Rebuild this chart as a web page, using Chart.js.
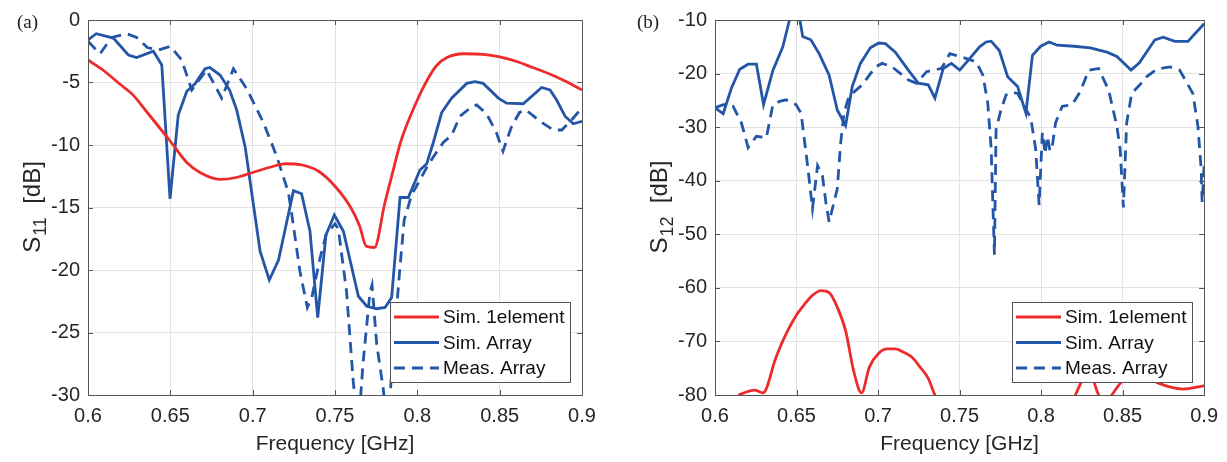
<!DOCTYPE html>
<html><head><meta charset="utf-8">
<script src="https://cdn.jsdelivr.net/npm/chart.js@4.4.0/dist/chart.umd.min.js"></script>
<style>
html,body{margin:0;padding:0;background:#fff;}
#wrap{position:relative;width:1227px;height:462px;overflow:hidden;}
.box{position:absolute;top:0;height:462px;}
canvas{display:block;}
</style></head><body>
<div id="wrap">
<div class="box" style="left:0;width:613px"><canvas id="c1" width="613" height="462"></canvas></div>
<div class="box" style="left:613px;width:614px"><canvas id="c2" width="614" height="462"></canvas></div>
</div>
<script>
// ---------- tick labels ----------
const freqTicks = [0.6, 0.65, 0.7, 0.75, 0.8, 0.85, 0.9];
const freqTickLabels = ['0.6', '0.65', '0.7', '0.75', '0.8', '0.85', '0.9'];
const s11Ticks = [-30, -25, -20, -15, -10, -5, 0];
const s11TickLabels = ['-30', '-25', '-20', '-15', '-10', '-5', '0'];
const s12Ticks = [-80, -70, -60, -50, -40, -30, -20, -10];
const s12TickLabels = ['-80', '-70', '-60', '-50', '-40', '-30', '-20', '-10'];
const seriesNames = ['Sim. 1element', 'Sim. Array', 'Meas. Array'];

// ---------- (a) S11 ----------
const s11ElemFreq = [0.6,0.61,0.62,0.627,0.636,0.65,0.66,0.668,0.68,0.69,0.7,0.71,0.72,0.73,0.74,0.75,0.76,0.765,0.769,0.774,0.78,0.785,0.79,0.8,0.806,0.812,0.818,0.828,0.84,0.85,0.86,0.87,0.88,0.89,0.9];
const s11ElemDb = [-3.2,-4.1,-5.2,-5.95,-7.4,-9.7,-11.4,-12.2,-12.75,-12.6,-12.2,-11.8,-11.5,-11.6,-12.1,-13.3,-15.1,-16.5,-18.1,-18.2,-14.8,-12.2,-9.7,-6.4,-4.8,-3.6,-3.0,-2.7,-2.75,-2.95,-3.3,-3.8,-4.3,-4.9,-5.6];

const s11SimArrFreq = [0.6,0.605,0.6154,0.6245,0.6295,0.6397,0.6448,0.6498,0.6548,0.66,0.665,0.6711,0.674,0.6802,0.686,0.6903,0.6955,0.7045,0.7101,0.7157,0.7248,0.7297,0.7348,0.7395,0.7445,0.7496,0.7551,0.7642,0.7693,0.7753,0.7804,0.7844,0.7895,0.7945,0.8016,0.8057,0.8097,0.8148,0.8208,0.83,0.835,0.84,0.8492,0.8542,0.8643,0.8755,0.8806,0.8846,0.8897,0.8947,0.9];
const s11SimArrDb = [-1.6,-1.1,-1.45,-2.8,-3.0,-2.5,-3.6,-14.3,-7.6,-5.7,-5.1,-3.9,-3.8,-4.4,-5.6,-7.2,-10.2,-18.5,-20.8,-19.2,-13.65,-13.9,-16.9,-23.8,-17.2,-15.6,-16.9,-22.1,-22.9,-23.1,-23.0,-22.2,-14.2,-14.2,-12.0,-11.5,-9.8,-7.4,-6.25,-5.07,-4.93,-5.07,-6.25,-6.65,-6.7,-5.4,-5.6,-6.4,-7.7,-8.3,-8.1];

const s11MeasFreq = [0.6,0.6073,0.6144,0.6235,0.6296,0.636,0.643,0.65,0.6569,0.663,0.672,0.6812,0.6883,0.6964,0.7065,0.7146,0.7217,0.7237,0.7287,0.7332,0.7359,0.7409,0.7445,0.75,0.752,0.757,0.761,0.764,0.767,0.7712,0.7725,0.7753,0.7793,0.782,0.785,0.789,0.792,0.7965,0.8057,0.81,0.8158,0.8209,0.8259,0.832,0.836,0.842,0.848,0.852,0.857,0.862,0.866,0.8745,0.8826,0.8877,0.8937,0.9];
const s11MeasDb = [-1.7,-2.7,-1.4,-1.1,-1.4,-2.2,-2.4,-2.1,-3.2,-5.6,-4.0,-6.25,-3.9,-5.5,-8.2,-10.9,-13.8,-15.5,-20.1,-23.0,-22.2,-19.05,-17.2,-16.3,-16.7,-21.7,-28.8,-33,-27.5,-21.8,-21.2,-25.9,-29.5,-33,-27,-20.5,-16,-14.0,-11.8,-10.9,-9.8,-9.2,-7.7,-7.05,-6.8,-7.5,-9.0,-10.5,-8.6,-7.4,-7.2,-8.1,-8.8,-8.8,-8.0,-7.0];

// ---------- (b) S12 ----------
const s12ElemFreq = [0.6142,0.6243,0.6294,0.6375,0.6436,0.6497,0.6548,0.6598,0.6649,0.67,0.675,0.6801,0.6852,0.6899,0.6947,0.7004,0.7055,0.7106,0.7156,0.7207,0.7258,0.7308,0.7349,0.745,0.76,0.78,0.8,0.815,0.8211,0.8252,0.829,0.8353,0.839,0.8434,0.8505,0.856,0.8667,0.8789,0.887,0.9];
const s12ElemDb = [-80,-79.1,-79.6,-72.9,-68.6,-65.2,-63.1,-61.4,-60.5,-60.9,-63.6,-68.0,-75.7,-79.6,-74.8,-72.2,-71.4,-71.4,-72.0,-72.9,-74.8,-76.9,-80,-85,-90,-92,-90,-85,-80,-77.3,-75.5,-80,-82,-80,-77.2,-76.5,-77.2,-78.5,-78.9,-78.3];

const s12SimArrFreq = [0.6,0.605,0.6101,0.6152,0.6203,0.6254,0.6298,0.6355,0.6416,0.6456,0.648,0.651,0.6538,0.6588,0.6639,0.67,0.675,0.6801,0.6842,0.6892,0.6953,0.7004,0.7045,0.7106,0.7187,0.7247,0.7308,0.7349,0.74,0.745,0.7501,0.7562,0.7623,0.7663,0.7694,0.7744,0.7795,0.7856,0.7907,0.7947,0.7998,0.8049,0.8099,0.8201,0.8302,0.8404,0.8465,0.8552,0.8603,0.8698,0.8749,0.882,0.8901,0.9];
const s12SimArrDb = [-26.4,-27.5,-22.7,-19.2,-18.25,-18.25,-25.8,-19.4,-15.0,-10.1,-8,-8,-13.1,-13.7,-16.3,-20.3,-26.8,-29.7,-22.4,-18.1,-15.2,-14.3,-14.4,-16.0,-19.4,-21.8,-22.1,-24.6,-19.05,-18.1,-19.35,-17.2,-15.0,-14.1,-13.95,-15.7,-20.6,-22.4,-27.4,-16.6,-14.9,-14.1,-14.7,-14.9,-15.2,-16.0,-16.8,-19.35,-18.0,-13.7,-13.2,-14.0,-14.0,-10.7];

const s12MeasFreq = [0.6,0.605,0.6111,0.6162,0.6203,0.6254,0.6315,0.6355,0.6396,0.6436,0.6497,0.6528,0.6568,0.6598,0.6629,0.6659,0.668,0.67,0.673,0.675,0.6771,0.6791,0.6821,0.6903,0.6984,0.7025,0.7086,0.7187,0.7237,0.7298,0.7389,0.744,0.7511,0.7602,0.7643,0.7673,0.7694,0.7704,0.7714,0.7724,0.7754,0.7785,0.7826,0.7856,0.7897,0.7937,0.7967,0.7988,0.8008,0.8025,0.8039,0.8055,0.8069,0.8089,0.813,0.8191,0.8241,0.8292,0.8353,0.8414,0.8465,0.8485,0.8505,0.8525,0.8556,0.8606,0.8647,0.8708,0.8789,0.885,0.8931,0.8962,0.8982,0.8988,0.9];
const s12MeasDb = [-26.4,-25.8,-26.1,-29.2,-33.8,-31.7,-32.0,-25.8,-25.2,-24.9,-25.8,-27.4,-37.2,-45.2,-37.2,-39.1,-44.0,-47.7,-44.0,-41.5,-32.9,-27.4,-24.3,-22.1,-18.75,-18.1,-18.75,-21.2,-21.8,-19.65,-19.05,-16.3,-16.9,-17.8,-20.3,-25.5,-34.1,-44,-53.8,-30.4,-26.8,-24.0,-23.5,-23.7,-26.1,-28.3,-34.1,-44.5,-31,-35,-31.7,-34.5,-33.5,-29.2,-26.1,-25.8,-23.35,-19.4,-19.05,-23.05,-29.8,-34.1,-45,-29.2,-23.7,-22.1,-20.6,-19.2,-18.75,-19.35,-23.7,-29.8,-37.8,-44.0,-37.2];

// ---------- styling ----------
const RED = '#ee2b2b';
const BLUE = '#2356a6';
const TXT = '#262626';
const SANS = '"Liberation Sans", Arial, Helvetica, sans-serif';
const SERIF = '"Liberation Serif", "Times New Roman", serif';

function pts(xs, ys) { return xs.map((x, i) => ({ x: x, y: ys[i] })); }

const decor = {
  id: 'decor',
  afterDraw(chart, args, o) {
    const ctx = chart.ctx, ca = chart.chartArea;
    const xs = chart.scales.x, ys = chart.scales.y;
    ctx.save();
    // box
    ctx.strokeStyle = '#555';
    ctx.lineWidth = 1;
    ctx.setLineDash([]);
    ctx.strokeRect(Math.round(ca.left) + 0.5, Math.round(ca.top) + 0.5, Math.round(ca.right - ca.left), Math.round(ca.bottom - ca.top));
    // inward ticks
    const tl = 5;
    ctx.beginPath();
    xs.ticks.forEach(t => {
      const px = Math.round(xs.getPixelForValue(t.value)) + 0.5;
      ctx.moveTo(px, ca.bottom); ctx.lineTo(px, ca.bottom - tl);
      ctx.moveTo(px, ca.top); ctx.lineTo(px, ca.top + tl);
    });
    ys.ticks.forEach(t => {
      const py = Math.round(ys.getPixelForValue(t.value)) + 0.5;
      ctx.moveTo(ca.left, py); ctx.lineTo(ca.left + tl, py);
      ctx.moveTo(ca.right, py); ctx.lineTo(ca.right - tl, py);
    });
    ctx.stroke();

    // legend inside plot (south-east)
    const w = 180, h = 80;
    const x0 = Math.round(ca.right - 12.5 - w), y0 = Math.round(ca.bottom - 13.5 - h);
    ctx.fillStyle = '#fff';
    ctx.fillRect(x0, y0, w, h);
    ctx.strokeStyle = '#555';
    ctx.lineWidth = 1;
    ctx.strokeRect(x0 + 0.5, y0 + 0.5, w, h);
    ctx.font = '19px ' + SANS;
    ctx.textBaseline = 'middle';
    ctx.textAlign = 'left';
    chart.data.datasets.forEach((ds, i) => {
      const yy = y0 + 15 + i * 25.5;
      ctx.strokeStyle = ds.borderColor;
      ctx.lineWidth = ds.borderWidth;
      ctx.setLineDash(ds.borderDash || []);
      ctx.beginPath();
      ctx.moveTo(x0 + 4, yy); ctx.lineTo(x0 + 49, yy);
      ctx.stroke();
      ctx.setLineDash([]);
      ctx.fillStyle = '#111';
      ctx.fillText(ds.label, x0 + 53, yy + 1);
    });

    // y label with subscript
    ctx.fillStyle = TXT;
    ctx.textBaseline = 'alphabetic';
    const big = '24px ' + SANS, small = '18px ' + SANS;
    ctx.font = big; const wS = ctx.measureText(o.ySym).width; const wR = ctx.measureText('  [dB]').width;
    ctx.font = small; const wSub = ctx.measureText(o.ySub).width;
    const total = wS + wSub + wR;
    ctx.translate(o.yLabelX, (ca.top + ca.bottom) / 2);
    ctx.rotate(-Math.PI / 2);
    let cx = -total / 2;
    ctx.font = big; ctx.fillText(o.ySym, cx, 0); cx += wS + 1;
    ctx.font = small; ctx.fillText(o.ySub, cx, 6); cx += wSub;
    ctx.font = big; ctx.fillText('  [dB]', cx, 0);
    ctx.setTransform(1, 0, 0, 1, 0, 0);

    // panel label
    ctx.font = '19px ' + SERIF;
    ctx.fillStyle = '#222';
    ctx.textAlign = 'left';
    ctx.fillText(o.panel, o.panelX, 28);
    ctx.restore();
  }
};

function makeChart(id, data, yMin, yMax, yTicks, yTickLabels, yAxisWidth, padRight, decorOpts) {
  return new Chart(document.getElementById(id), {
    type: 'line',
    data: { datasets: data },
    options: {
      responsive: false,
      animation: false,
      events: [],
      layout: { padding: { left: 0, right: padRight, top: 16, bottom: 0 } },
      elements: { point: { radius: 0 } },
      plugins: { legend: { display: false }, tooltip: { enabled: false }, decor: decorOpts },
      scales: {
        x: {
          type: 'linear', min: 0.6, max: 0.9,
          afterBuildTicks: a => { a.ticks = freqTicks.map(v => ({ value: v })); },
          afterFit: s => { s.height = 67; },
          ticks: { callback: (v, i) => freqTickLabels[i], font: { family: SANS, size: 20 }, color: TXT, padding: 9, maxRotation: 0, autoSkip: false },
          grid: { color: '#e3e3e3', lineWidth: 1, drawTicks: false },
          border: { display: false },
          title: { display: true, text: 'Frequency [GHz]', font: { family: SANS, size: 21 }, color: TXT, padding: { top: 0, bottom: 5 } }
        },
        y: {
          type: 'linear', min: yMin, max: yMax,
          afterBuildTicks: a => { a.ticks = yTicks.map(v => ({ value: v })); },
          afterFit: s => { s.width = yAxisWidth; },
          ticks: { callback: (v, i) => yTickLabels[i], font: { family: SANS, size: 20 }, color: TXT, padding: 8, autoSkip: false },
          grid: { color: '#e3e3e3', lineWidth: 1, drawTicks: false },
          border: { display: false }
        }
      }
    },
    plugins: [decor]
  });
}

function datasets(fE, dE, fS, dS, fM, dM) {
  return [
    { label: seriesNames[0], data: pts(fE, dE), borderColor: RED, borderWidth: 2.8, cubicInterpolationMode: 'monotone', fill: false },
    { label: seriesNames[1], data: pts(fS, dS), borderColor: BLUE, borderWidth: 2.8, tension: 0, fill: false },
    { label: seriesNames[2], data: pts(fM, dM), borderColor: BLUE, borderWidth: 2.8, borderDash: [11, 7], tension: 0, fill: false }
  ];
}

makeChart('c1', datasets(s11ElemFreq, s11ElemDb, s11SimArrFreq, s11SimArrDb, s11MeasFreq, s11MeasDb),
  -30, 0, s11Ticks, s11TickLabels, 88, 31,
  { ySym: 'S', ySub: '11', yLabelX: 40, panel: '(a)', panelX: 17 });

makeChart('c2', datasets(s12ElemFreq, s12ElemDb, s12SimArrFreq, s12SimArrDb, s12MeasFreq, s12MeasDb),
  -80, -10, s12Ticks, s12TickLabels, 102, 19,
  { ySym: 'S', ySub: '12', yLabelX: 54, panel: '(b)', panelX: 24 });
</script>
</body></html>
